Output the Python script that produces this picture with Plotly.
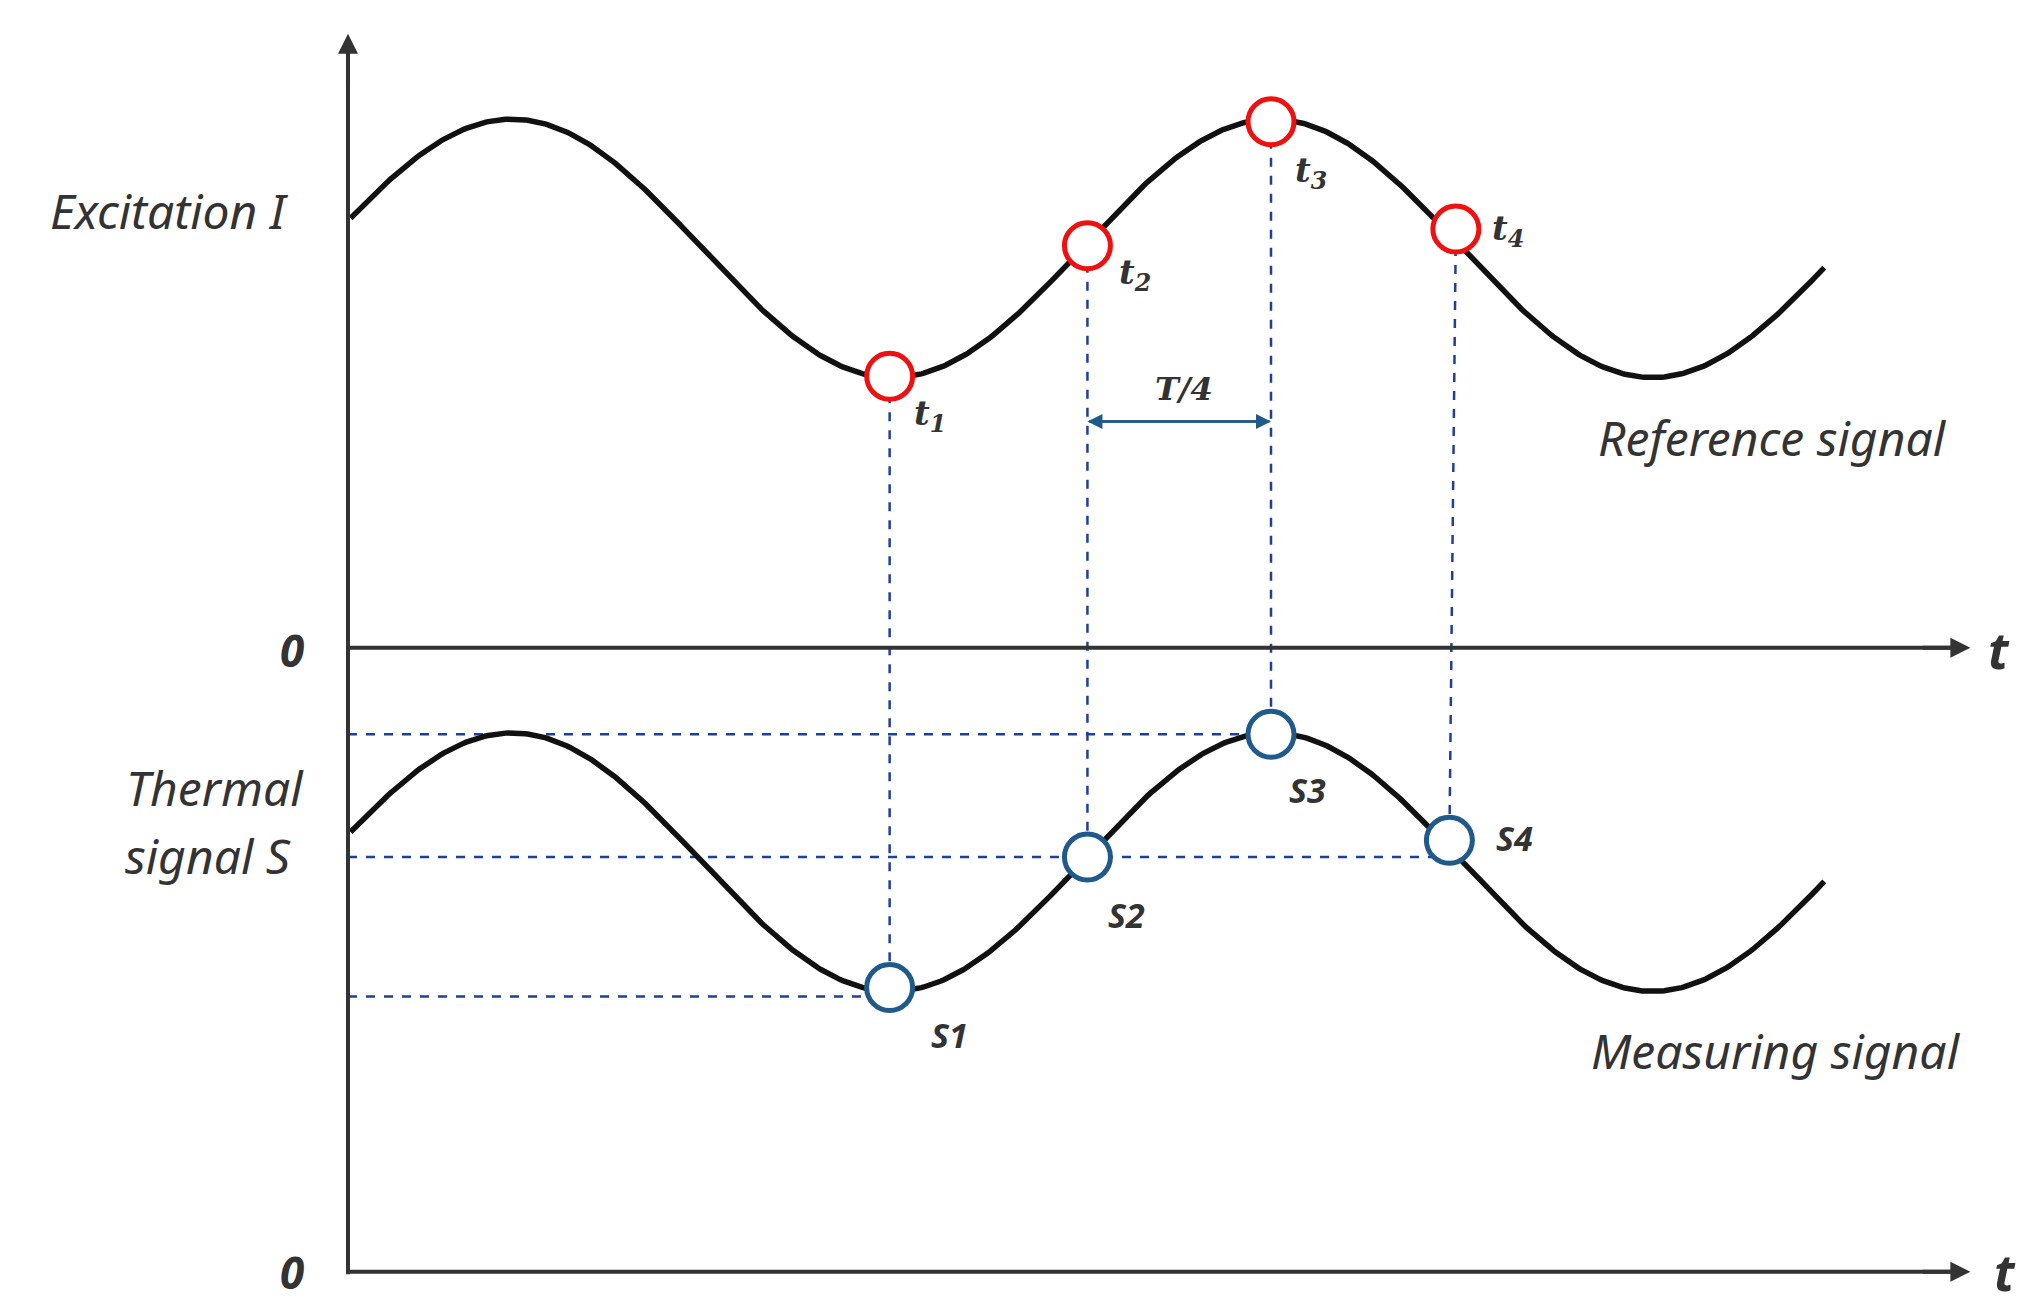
import numpy as np
import plotly.graph_objects as go

# schematic parameters (pixel space of reference, 1568x1013)
ref_center, sig_center, amp, period, peak_x = 186, 661, 100, 588, 390
x_start, x_end = 265, 1405
t_names = ["t<sub>1</sub>", "t<sub>2</sub>", "t<sub>3</sub>", "t<sub>4</sub>"]
t_x = [682, 835, 977, 1120]
t_y = [285, 184, 88, 171]
s_names = ["S1", "S2", "S3", "S4"]
s_x = [682, 835, 977, 1115]
s_y = [758, 657, 562, 644]

xs = np.linspace(x_start, x_end, 600)
ph = 2 * np.pi * (xs - peak_x) / period
ref = ref_center - amp * np.cos(ph)
sig = sig_center - amp * np.cos(ph)

fig = go.Figure()
fig.add_trace(go.Scatter(x=xs, y=ref, mode="lines", line=dict(color="#111", width=5.5), hoverinfo="skip"))
fig.add_trace(go.Scatter(x=xs, y=sig, mode="lines", line=dict(color="#111", width=5.5), hoverinfo="skip"))

dash = dict(color="#1f3f9a", width=2.5, dash="dash")
shapes = []
for tx, ty, sx, sy in zip(t_x, t_y, s_x, s_y):
    shapes.append(dict(type="line", x0=tx, x1=sx, y0=ty, y1=sy, line=dash, layer="below"))
for sx, sy in [(977, 562), (1115, 657), (682, 765)]:
    shapes.append(dict(type="line", x0=263, x1=sx, y0=sy, y1=sy, line=dash, layer="below"))
ax = dict(color="#333", width=4)
shapes += [dict(type="line", x0=263, x1=263, y0=980, y1=25, line=ax),
           dict(type="line", x0=263, x1=1505, y0=495, y1=495, line=ax),
           dict(type="line", x0=263, x1=1505, y0=978, y1=978, line=ax)]

fig.add_trace(go.Scatter(x=t_x, y=t_y, mode="markers", marker=dict(size=46, color="white", line=dict(color="#ee1111", width=5)), hoverinfo="skip"))
fig.add_trace(go.Scatter(x=s_x, y=s_y, mode="markers", marker=dict(size=46, color="white", line=dict(color="#1f5a8a", width=5)), hoverinfo="skip"))

ann = []
def arrow(x, y, ax_, ay_, color="#333", w=4, size=1.0):
    ann.append(dict(x=x, y=y, ax=ax_, ay=ay_, xref="x", yref="y", axref="x", ayref="y", text="",
                    showarrow=True, arrowhead=2, arrowsize=size, arrowwidth=w, arrowcolor=color))
arrow(263, 20, 263, 60)
arrow(1518, 495, 1480, 495)
arrow(1518, 978, 1480, 978)
arrow(835, 320, 977, 320, "#1f5a8a", 2.5, 1.2)
arrow(977, 320, 835, 320, "#1f5a8a", 2.5, 1.2)

def txt(x, y, s, size=48, bold=False, italic=True, xa="center", family="Noto Sans"):
    if italic: s = "<i>" + s + "</i>"
    if bold: s = "<b>" + s + "</b>"
    ann.append(dict(x=x, y=y, text=s, showarrow=False, xanchor=xa, font=dict(size=size, color="#333", family=family)))

txt(125, 157, "Excitation I")
txt(1365, 332, "Reference signal")
txt(1368, 807, "Measuring signal")
txt(160, 603, "Thermal")
txt(155, 656, "signal S")
txt(220, 497, "0", bold=True, size=44)
txt(220, 978, "0", bold=True, size=44)
txt(1540, 497, "t", bold=True, size=50)
txt(1545, 978, "t", bold=True, size=50)
txt(910, 295, "T/4", bold=True, size=32, family="DejaVu Serif")
for n, (x, y) in zip(t_names, [(713, 315), (872, 206), (1008, 127), (1160, 172)]):
    txt(x, y, n, bold=True, size=34, family="DejaVu Serif")
for n, (x, y) in zip(s_names, [(728, 795), (865, 702), (1005, 605), (1165, 642)]):
    txt(x, y, n, bold=True, size=34)

fig.update_layout(width=2027, height=1309, margin=dict(l=0, r=0, t=0, b=0), showlegend=False,
                  plot_bgcolor="white", paper_bgcolor="white", shapes=shapes, annotations=ann,
                  xaxis=dict(range=[0, 1568], visible=False),
                  yaxis=dict(range=[1013, 0], visible=False))
fig.write_html("out.html")
